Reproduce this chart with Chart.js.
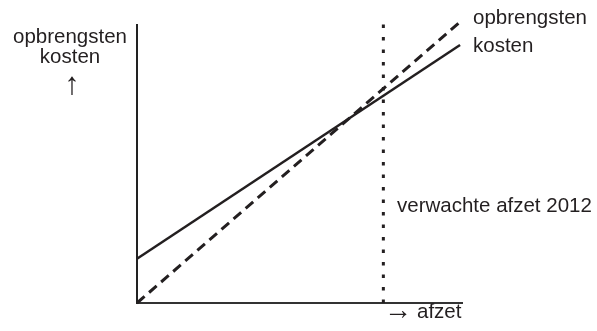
<!DOCTYPE html>
<html>
<head>
<meta charset="utf-8">
<script src="https://cdn.jsdelivr.net/npm/chart.js@4"></script>
<style>
  html, body { margin: 0; padding: 0; background: #fff; }
  #wrap { width: 597px; height: 331px; }
</style>
</head>
<body>
<div id="wrap"><canvas id="breakEven" width="597" height="331"></canvas></div>
<script>
// afzet (x) from 0 to 100, bedragen (y) from 0 to 100
var afzet = [0, 99.4];
var opbrengsten = [0, 101.1];
var kosten = [15.9, 92.8];
var verwachteAfzet = 75.8;
var verwachtHoogte = [0, 100.7];

var yLabels = ['opbrengsten', 'kosten', '\u2191'];
var lineLabels = ['opbrengsten', 'kosten'];
var markerLabel = 'verwachte afzet 2012';
var xLabel = ['\u2192', 'afzet'];

function pts(xs, ys) {
  return xs.map(function(x, i) { return { x: x, y: ys[i] }; });
}

var ink = '#231f20';
var family = '"Liberation Sans", Arial, sans-serif';
var font = '20.5px ' + family;

var labelPlugin = {
  id: 'labels',
  afterDraw: function(chart) {
    var ctx = chart.ctx;
    ctx.save();
    ctx.fillStyle = ink;
    ctx.font = font;
    ctx.textBaseline = 'alphabetic';

    // y-axis label left of the axis
    ctx.textAlign = 'center';
    ctx.fillText(yLabels[0], 70, 43);
    ctx.fillText(yLabels[1], 70, 63);
    ctx.font = '31px ' + family;
    ctx.fillText(yLabels[2], 72, 94);

    // line labels at the ends of the lines
    ctx.font = font;
    ctx.textAlign = 'left';
    ctx.fillText(lineLabels[0], 473, 24);
    ctx.fillText(lineLabels[1], 473, 52);

    // dotted marker label
    ctx.fillText(markerLabel, 397, 212);

    // x-axis label
    ctx.fillText(xLabel[1], 417, 318);
    ctx.font = '28px ' + family;
    ctx.fillText(xLabel[0], 384, 319);
    ctx.restore();
  }
};

new Chart(document.getElementById('breakEven'), {
  type: 'scatter',
  data: {
    datasets: [
      {
        label: 'kosten',
        data: pts(afzet, kosten),
        showLine: true,
        borderColor: ink,
        borderWidth: 2.5,
        pointRadius: 0,
        clip: false
      },
      {
        label: 'opbrengsten',
        data: pts(afzet, opbrengsten),
        showLine: true,
        borderColor: ink,
        borderWidth: 3,
        borderDash: [10, 6],
        pointRadius: 0,
        clip: false
      },
      {
        label: 'verwachte afzet 2012',
        data: pts([verwachteAfzet, verwachteAfzet], verwachtHoogte),
        showLine: true,
        borderColor: ink,
        borderWidth: 3,
        borderDash: [3.5, 9],
        borderCapStyle: 'butt',
        pointRadius: 0,
        clip: false
      }
    ]
  },
  options: {
    responsive: false,
    animation: false,
    devicePixelRatio: 1,
    layout: { padding: { left: 129, right: 135, top: 25, bottom: 20 } },
    plugins: {
      legend: { display: false },
      tooltip: { enabled: false }
    },
    scales: {
      x: {
        type: 'linear',
        min: 0,
        max: 100,
        grid: { display: false },
        ticks: { display: false },
        border: { display: true, color: '#333', width: 2 }
      },
      y: {
        type: 'linear',
        min: 0,
        max: 100,
        grid: { display: false },
        ticks: { display: false },
        border: { display: true, color: '#222', width: 2 }
      }
    }
  },
  plugins: [labelPlugin]
});
</script>
</body>
</html>
